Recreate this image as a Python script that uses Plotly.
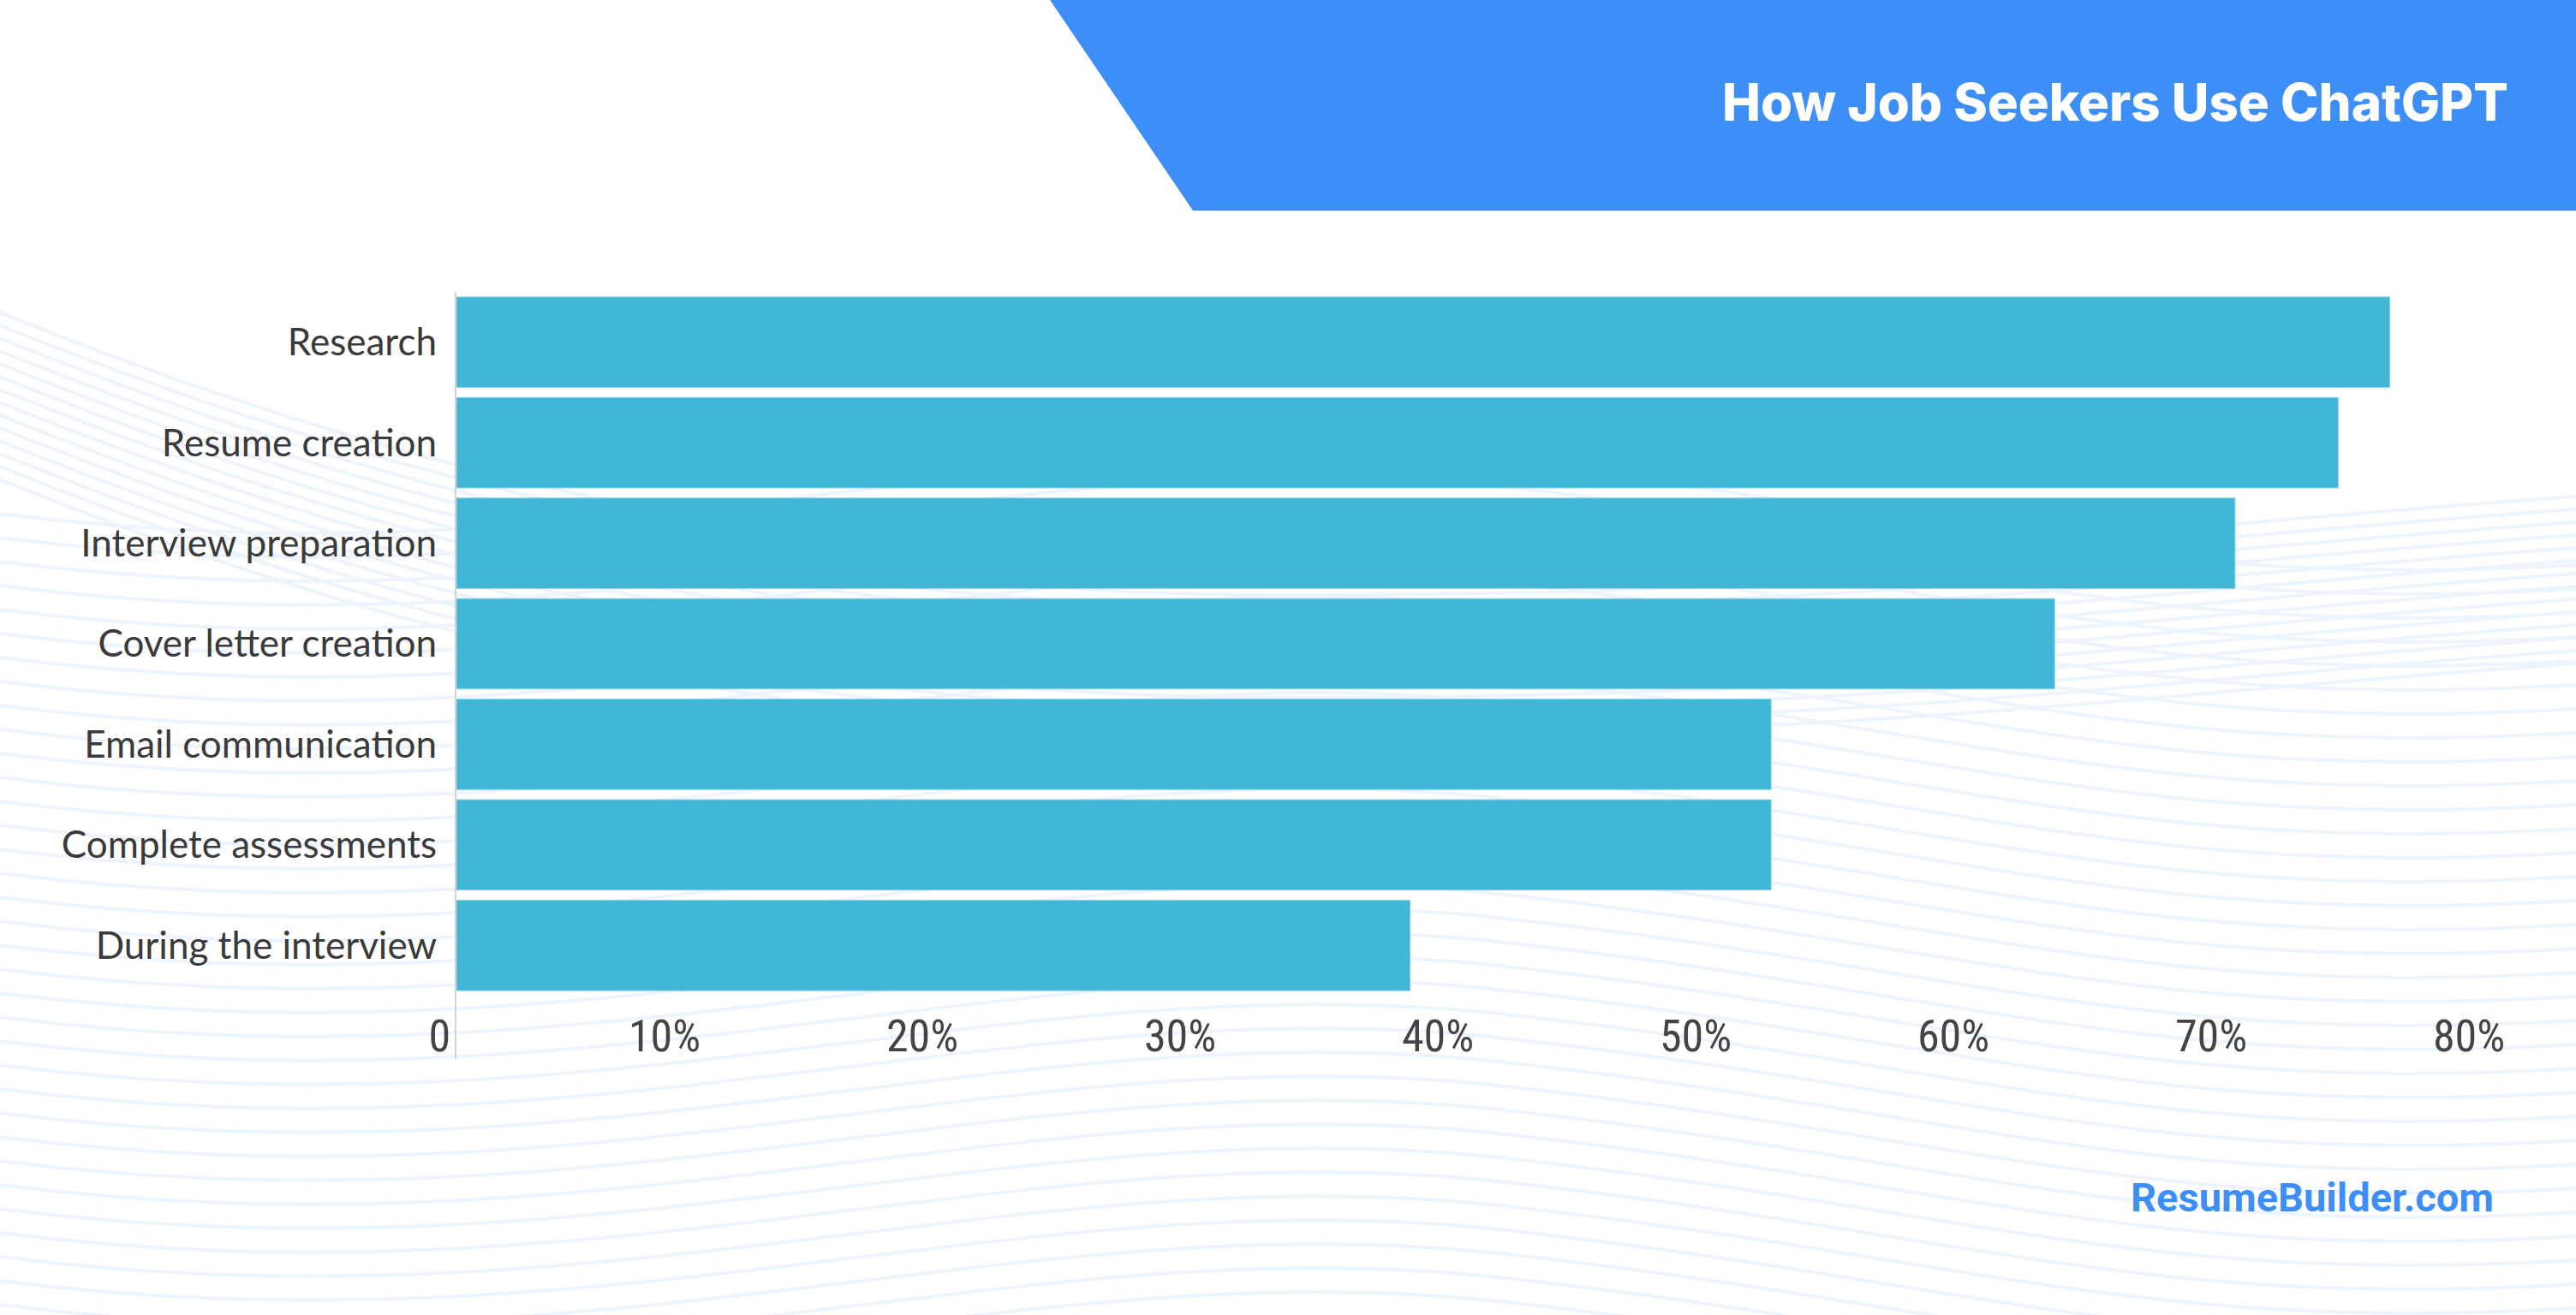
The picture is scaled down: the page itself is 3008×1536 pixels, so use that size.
import plotly.graph_objects as go

W, H = 3008, 1536

categories = ["Research", "Resume creation", "Interview preparation", "Cover letter creation",
              "Email communication", "Complete assessments", "During the interview"]
values = [75, 73, 69, 62, 51, 51, 37]
tick_vals = [0, 10, 20, 30, 40, 50, 60, 70, 80]
tick_text = ["\u2007\u2007\u20070", "10%", "20%", "30%", "40%", "50%", "60%", "70%", "80%"]

title_text = "How Job Seekers Use ChatGPT"
brand_text = "ResumeBuilder.com"

BAR = "#42b6d6"
BLUE = "#3e8ef7"
WAVE = "#edf4fd"


def px(x):
    return x / W


def py(y):
    return 1 - y / H


fig = go.Figure()
fig.add_trace(go.Bar(
    x=values, y=categories, orientation="h",
    marker=dict(color=BAR, line=dict(color="#8fd3ea", width=1)),
    hoverinfo="x+y",
))

shapes = []


def wave(pts):
    out = ["M {:.5f},{:.5f}".format(px(pts[0][0]), py(pts[0][1]))]
    cmd = pts[1:]
    i = 0
    while i < len(cmd):
        tag = cmd[i]
        if tag == "C":
            a, b, c = cmd[i + 1], cmd[i + 2], cmd[i + 3]
            out.append("C {:.5f},{:.5f} {:.5f},{:.5f} {:.5f},{:.5f}".format(
                px(a[0]), py(a[1]), px(b[0]), py(b[1]), px(c[0]), py(c[1])))
            i += 4
        elif tag == "S":
            b, c = cmd[i + 1], cmd[i + 2]
            out.append("S {:.5f},{:.5f} {:.5f},{:.5f}".format(
                px(b[0]), py(b[1]), px(c[0]), py(c[1])))
            i += 3
    return " ".join(out)


# decorative background waves
for i in range(14):
    y0 = 365 + 15 * i
    d = wave([(0, y0), "C", (300, y0 + 120), (800, y0 + 300), (1500, y0 + 300),
              "S", (2500, y0 + 250), (3008, y0 + 215)])
    shapes.append(dict(type="path", path=d, xref="paper", yref="paper", layer="below",
                       line=dict(color=WAVE, width=4)))

for i in range(36):
    y0 = 600 + 28 * i
    d = wave([(0, y0), "C", (700, y0 + 90), (1200, y0 - 120), (1750, y0 - 60),
              "S", (2500, y0 + 90), (3008, y0 + 60)])
    shapes.append(dict(type="path", path=d, xref="paper", yref="paper", layer="below",
                       line=dict(color=WAVE, width=4)))

# header banner
shapes.append(dict(type="path",
                   path="M {},{} L {},{} L {},{} L {},{} Z".format(
                       px(1226), py(0), px(3008), py(0), px(3008), py(246), px(1393), py(246)),
                   xref="paper", yref="paper", fillcolor=BLUE, line=dict(width=0), layer="above"))

# vertical axis line extending below the bars
shapes.append(dict(type="line", xref="paper", yref="paper",
                   x0=px(532), x1=px(532), y0=py(1237), y1=py(341),
                   line=dict(color="#d2d2d2", width=2), layer="above"))

fig.update_layout(
    template="none",
    width=W, height=H,
    margin=dict(l=0, r=0, t=0, b=0, pad=0),
    paper_bgcolor="white", plot_bgcolor="rgba(0,0,0,0)",
    showlegend=False,
    bargap=0.1,
    shapes=shapes,
    xaxis=dict(
        domain=[px(533), px(2941)], range=[0, 80], automargin=False,
        tickvals=tick_vals, ticktext=tick_text,
        showgrid=False, zeroline=False, showline=False, ticks="",
        tickfont=dict(family="Liberation Sans Narrow, Roboto Condensed, Roboto", size=52, color="#444444"),
        ticklabelshift=-58, ticklabelstandoff=12,
    ),
    yaxis=dict(
        domain=[py(1163), py(341)], autorange="reversed", automargin=False,
        showgrid=False, zeroline=False, showline=False, ticks="",
        tickfont=dict(family="Lato, Open Sans", size=44, color="#3a3a3a"),
        ticklabelstandoff=22,
    ),
    annotations=[
        dict(text=title_text, x=px(2931), y=py(119), xref="paper", yref="paper",
             xanchor="right", yanchor="middle", showarrow=False,
             font=dict(family="Inter, Roboto", size=60, color="white", weight=800)),
        dict(text=brand_text, x=px(2914), y=py(1398), xref="paper", yref="paper",
             xanchor="right", yanchor="middle", showarrow=False,
             font=dict(family="Roboto", size=47, color=BLUE, weight="bold")),
    ],
)

fig.write_html("out.html")
